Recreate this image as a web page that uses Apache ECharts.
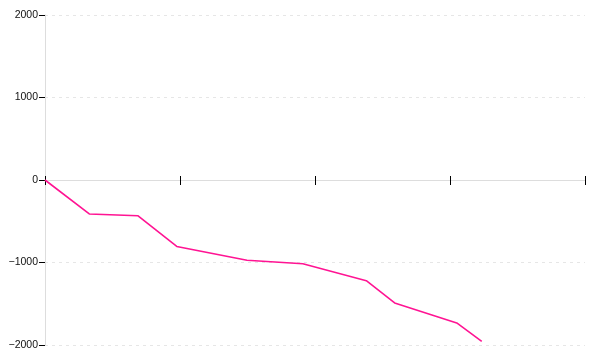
<!DOCTYPE html>
<html><head><meta charset="utf-8">
<script src="https://cdn.jsdelivr.net/npm/echarts@6/dist/echarts.min.js"></script>
<style>html,body{margin:0;padding:0;background:#fff}#c{width:600px;height:360px}</style>
</head><body><div id="c"></div>
<script>
var xValues = [0, 3.28, 6.87, 9.76, 14.96, 19.1, 23.8, 25.9, 30.5, 32.35];
var yValues = [0, -412, -433, -806, -973, -1015, -1220, -1490, -1733, -1956];
var yTicks = [-2000, -1000, 0, 1000, 2000];

var points = xValues.map(function(x, i){ return [x, yValues[i]]; });
var chart = echarts.init(document.getElementById('c'));
var xCommon = {
  type: 'value', min: 0, max: 40, interval: 10,
  axisLine: { onZero: true, lineStyle: { color: '#ddd', width: 1 } },
  axisLabel: { show: false },
  splitLine: { show: false }
};
chart.setOption({
  animation: false,
  grid: { left: 45, right: 15, top: 15, bottom: 15, containLabel: false },
  xAxis: [
    Object.assign({}, xCommon, { axisTick: { show: true, length: 5, lineStyle: { color: '#000', width: 1 } } }),
    Object.assign({}, xCommon, { position: 'bottom', axisLine: { onZero: true, onZeroAxisIndex: 0, lineStyle: { color: '#ddd', width: 1 } }, axisTick: { show: true, inside: true, length: 4, lineStyle: { color: '#000', width: 1 } } })
  ],
  yAxis: {
    type: 'value', min: yTicks[0], max: yTicks[yTicks.length - 1], interval: 1000,
    axisLine: { show: true, lineStyle: { color: '#ddd' } },
    axisTick: { show: true, length: 6, lineStyle: { color: '#000' } },
    axisLabel: { margin: 7, color: '#111', fontFamily: 'Liberation Sans', fontSize: 10.5,
      formatter: function(v){ return String(v).replace('-', '\u2212'); } },
    splitLine: { show: true, lineStyle: { color: '#e6e6e6', type: [3, 4] } }
  },
  series: [{
    type: 'line', data: points, showSymbol: false, symbol: 'none',
    lineStyle: { color: '#ff1493', width: 1.6 },
    itemStyle: { color: '#ff1493' }
  }]
});
</script></body></html>
